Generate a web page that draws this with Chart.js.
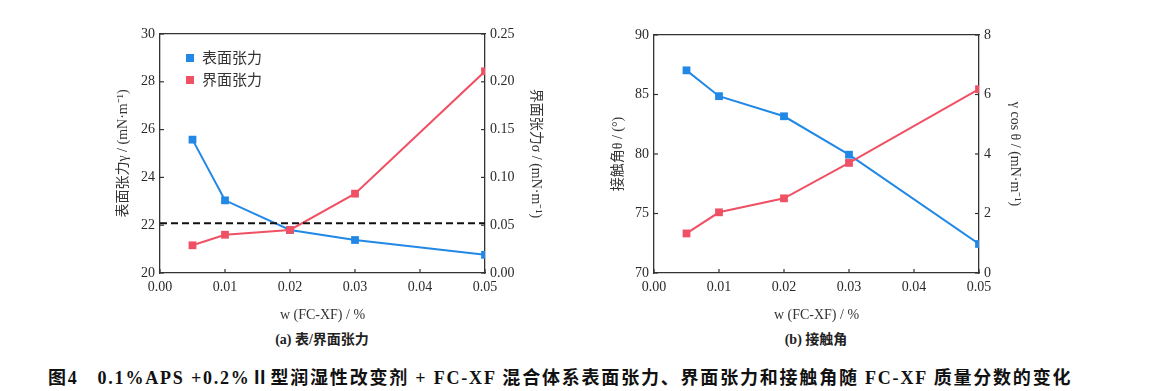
<!DOCTYPE html>
<html>
<head>
<meta charset="utf-8">
<script src="https://cdn.jsdelivr.net/npm/chart.js"></script>
<style>
    body { margin: 0; background: #fff; width: 1149px; height: 391px; position: relative; overflow: hidden; font-family: "Liberation Serif", "Noto Sans CJK SC", serif; color: #222; }
    .box { position: absolute; width: 500px; height: 306px; top: 20px; }
    .legend { position: absolute; font-family: "Noto Sans CJK SC", sans-serif; font-size: 15px; color: #333; line-height: 22px; }
    .legend span.sq { display: inline-block; width: 8px; height: 8px; margin-right: 8px; vertical-align: 1px; }
    .cap { position: absolute; font-weight: bold; font-size: 14px; transform: translateX(-50%); white-space: nowrap; }
    .fig { position: absolute; left: 48px; top: 363px; font-weight: bold; font-size: 18px; white-space: nowrap; letter-spacing: 1.8px; color: #111; }
</style>
</head>
<body>
<div class="box" style="left:60px"><canvas id="tensionCanvas" width="500" height="306"></canvas></div>
<div class="box" style="left:560px"><canvas id="angleCanvas" width="500" height="306"></canvas></div>
<div class="legend" style="left:186px; top:46px">
    <div><span class="sq" style="background:rgb(33,136,230)"></span>表面张力</div>
    <div><span class="sq" style="background:rgb(240,80,100)"></span>界面张力</div>
</div>
<div class="cap" style="left:322px; top:328px">(a) 表/界面张力</div>
<div class="cap" style="left:816px; top:328px">(b) 接触角</div>
<div class="fig">图4&nbsp;&nbsp; 0.1%APS +0.2%Ⅱ型润湿性改变剂 + FC-XF 混合体系表面张力、界面张力和接触角随 FC-XF 质量分数的变化</div>

<script>
// Data
const fcxf = [0.005, 0.01, 0.02, 0.03, 0.05];
const surfaceTension = [25.58, 23.04, 21.8, 21.38, 20.76];
const interfaceTension = [0.029, 0.040, 0.045, 0.083, 0.211];
const refLineX = [0, 0.05];
const refLineY = [22.08, 22.08];
const contactAngle = [87.03, 84.86, 83.17, 79.94, 72.44];
const adhesion = [1.33, 2.04, 2.51, 3.70, 6.18];

const blue = 'rgb(33,136,230)';
const red = 'rgb(240,80,100)';
const serif = 'Liberation Serif';

function pts(xs, ys) {
    return xs.map((x, i) => ({ x: x, y: ys[i] }));
}

// inward tick marks
const innerTicks = {
    id: 'innerTicks',
    afterDraw(chart) {
        const ctx = chart.ctx;
        const a = chart.chartArea;
        ctx.save();
        ctx.strokeStyle = '#333';
        ctx.lineWidth = 1.2;
        Object.values(chart.scales).forEach(s => {
            if (s.id === 'xTop') return;
            s.ticks.forEach((t, i) => {
                const p = s.getPixelForTick(i);
                ctx.beginPath();
                if (s.id === 'x') { ctx.moveTo(p, a.bottom); ctx.lineTo(p, a.bottom - 4); }
                else if (s.position === 'left') { ctx.moveTo(a.left, p); ctx.lineTo(a.left + 4, p); }
                else { ctx.moveTo(a.right, p); ctx.lineTo(a.right - 4, p); }
                ctx.stroke();
            });
        });
        ctx.restore();
    }
};

function axisBase(pos, min, max, step, dec, title, width) {
    return {
        type: 'linear',
        position: pos,
        min: min,
        max: max,
        afterFit: s => { s.width = width; },
        grid: { display: false, drawTicks: false },
        border: { display: true, color: '#333', width: 1.3 },
        ticks: {
            stepSize: step,
            padding: 5,
            color: '#2a2a2a',
            font: { family: serif, size: 14 },
            callback: v => v.toFixed(dec)
        },
        title: {
            display: true,
            text: title,
            color: '#333',
            padding: { top: 0, bottom: 0 },
            font: { family: serif + ', Noto Sans CJK SC', size: 14 }
        }
    };
}

function xScales() {
    return {
        x: {
            type: 'linear',
            min: 0,
            max: 0.05,
            afterFit: s => { s.height = 53; },
            grid: { display: false, drawTicks: false },
            border: { display: true, color: '#333', width: 1.3 },
            ticks: { stepSize: 0.01, padding: 6, color: '#2a2a2a', font: { family: serif, size: 14 }, callback: v => v.toFixed(2) },
            title: { display: true, text: 'w (FC-XF) / %', color: '#333', padding: { top: 6, bottom: 2 }, font: { family: serif, size: 14 } }
        },
        xTop: {
            type: 'linear',
            position: 'top',
            min: 0,
            max: 0.05,
            grid: { display: false, drawTicks: false },
            border: { display: true, color: '#333', width: 1.3 },
            ticks: { display: false }
        }
    };
}

function lineSet(label, data, color, axis) {
    return {
        label: label,
        data: data,
        yAxisID: axis,
        borderColor: color,
        backgroundColor: color,
        borderWidth: 2,
        pointStyle: 'rect',
        pointRadius: 5.5,
        pointBorderWidth: 0,
        tension: 0
    };
}

// (a) surface / interfacial tension
const tensionCtx = document.getElementById('tensionCanvas').getContext('2d');
const tScales = xScales();
tScales.y = axisBase('left', 20, 30, 2, 0, '表面张力γ / (mN·m⁻¹)', 45);
tScales.y1 = axisBase('right', 0, 0.25, 0.05, 2, '界面张力σ / (mN·m⁻¹)', 59);

new Chart(tensionCtx, {
    type: 'line',
    data: {
        datasets: [
            {
                label: 'ref',
                data: pts(refLineX, refLineY),
                yAxisID: 'y',
                borderColor: '#111',
                borderWidth: 2,
                borderDash: [7, 4],
                pointRadius: 0
            },
            lineSet('界面张力', pts(fcxf, interfaceTension), red, 'y1'),
            lineSet('表面张力', pts(fcxf, surfaceTension), blue, 'y')
        ]
    },
    options: {
        responsive: false,
        animation: false,
        layout: { padding: { top: 14, left: 55, right: 16, bottom: 0 } },
        scales: tScales,
        plugins: { legend: { display: false }, tooltip: { enabled: false } }
    },
    plugins: [innerTicks]
});

// (b) contact angle
const angleCtx = document.getElementById('angleCanvas').getContext('2d');
const aScales = xScales();
aScales.y = axisBase('left', 70, 90, 5, 0, '接触角θ / (°)', 44);
aScales.y1 = axisBase('right', 0, 8, 2, 0, 'γ cos θ / (mN·m⁻¹)', 44);

new Chart(angleCtx, {
    type: 'line',
    data: {
        datasets: [
            lineSet('γcosθ', pts(fcxf, adhesion), red, 'y1'),
            lineSet('接触角', pts(fcxf, contactAngle), blue, 'y')
        ]
    },
    options: {
        responsive: false,
        animation: false,
        layout: { padding: { top: 15, left: 50, right: 37, bottom: 0 } },
        scales: aScales,
        plugins: { legend: { display: false }, tooltip: { enabled: false } }
    },
    plugins: [innerTicks]
});
</script>
</body>
</html>
